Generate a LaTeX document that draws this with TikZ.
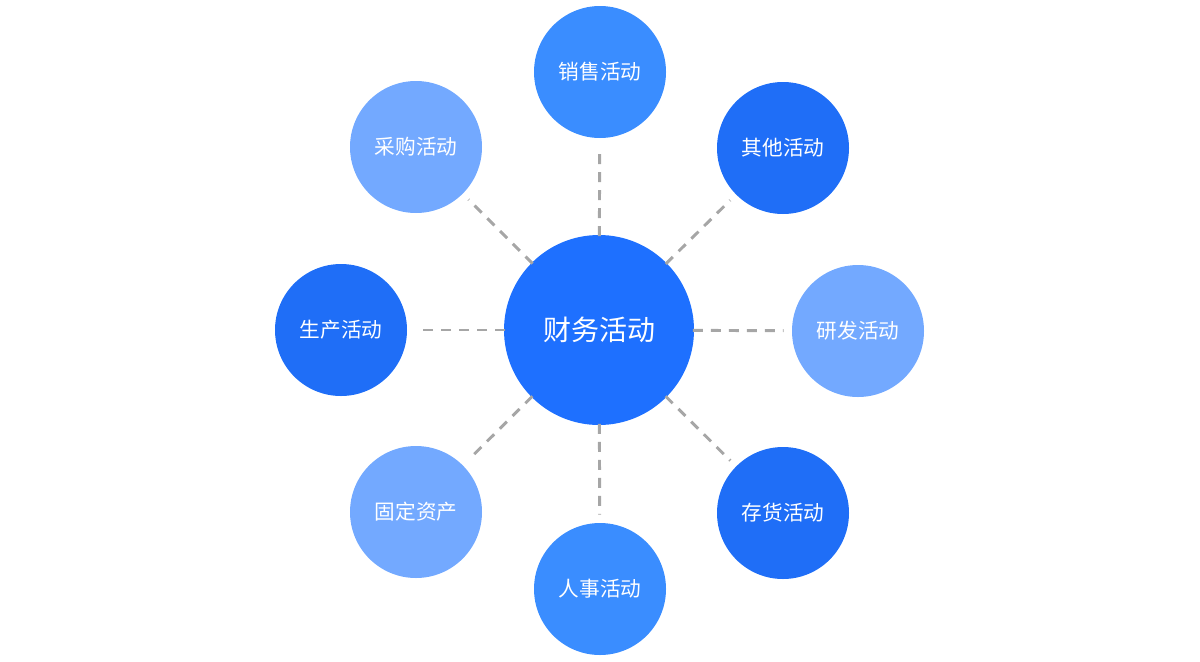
\documentclass[tikz,border=0pt]{standalone}
\usepackage{fontspec}
\setmainfont{Noto Sans CJK SC}
\usepackage{tikz}

\definecolor{hubblue}{HTML}{1E70FF}
\definecolor{deepblue}{HTML}{1F6EF7}
\definecolor{midblue}{HTML}{3A8DFF}
\definecolor{paleblue}{HTML}{73A9FF}
\definecolor{linkgray}{HTML}{A6A6A6}

\tikzset{
  hub/.style={circle,fill=hubblue,text=white,minimum size=142.5pt,inner sep=0pt,font=\fontsize{21}{24}\selectfont},
  leaf/.style={circle,text=white,minimum size=99pt,inner sep=0pt,font=\fontsize{15.5}{18}\selectfont},
  link/.style={draw=linkgray,line width=2.2pt,dash pattern=on 7.5pt off 6pt,shorten <=-1pt,shorten >=6pt}
}

\begin{document}
\begin{tikzpicture}[x=0.75pt,y=-0.75pt]
        \useasboundingbox (0,0) rectangle (1200,661);

        %Hub
        \node [hub] (fin) at (599,330) {财务活动};

        %Leaves
        \node [leaf,fill=midblue] (sales) at (600,72) {销售活动};
        \node [leaf,fill=deepblue] (other) at (783,148) {其他活动};
        \node [leaf,fill=paleblue] (rnd) at (858,331) {研发活动};
        \node [leaf,fill=deepblue] (stock) at (783,513) {存货活动};
        \node [leaf,fill=midblue] (staff) at (600,589) {人事活动};
        \node [leaf,fill=paleblue] (assets) at (416,512) {固定资产};
        \node [leaf,fill=deepblue] (prod) at (341,330) {生产活动};
        \node [leaf,fill=paleblue] (buy) at (416,147) {采购活动};

        %Links
        \foreach \leaf in {sales,other,rnd,stock,staff,assets,prod,buy}
            \draw [link] (fin) -- (\leaf);
    \end{tikzpicture}
\end{document}
